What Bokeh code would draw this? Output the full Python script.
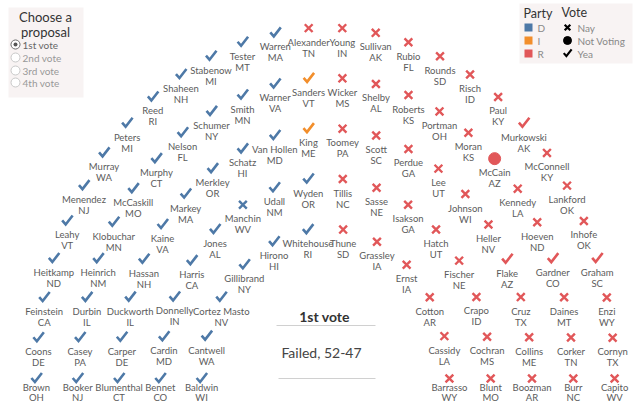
import math
from bokeh.plotting import figure
from bokeh.models import Range1d, ColumnDataSource
from bokeh.core.properties import value
from bokeh.embed import file_html
from bokeh.resources import INLINE

# ---------------- data (seat order: arc by arc, outer first, left to right) ----------------
seats_per_arc = [28, 24, 20, 16, 12]
arc_radius = [7, 6, 5, 4, 3]

names = [
    "Brown", "Coons", "Feinstein", "Heitkamp", "Leahy", "Menendez", "Murray", "Peters", "Reed",
    "Shaheen", "Stabenow", "Tester", "Warren", "Alexander", "Young", "Sullivan", "Rubio", "Rounds",
    "Risch", "Paul", "Murkowski", "McConnell", "Lankford", "Inhofe", "Graham", "Enzi", "Cornyn", "Capito",
    "Booker", "Casey", "Durbin", "Heinrich", "Klobuchar", "McCaskill", "Murphy", "Nelson", "Schumer",
    "Smith", "Warner", "Sanders", "Wicker", "Shelby", "Roberts", "Portman", "Moran", "McCain",
    "Kennedy", "Hoeven", "Gardner", "Daines", "Corker", "Burr",
    "Blumenthal", "Carper", "Duckworth", "Hassan", "Kaine", "Markey", "Merkley", "Schatz", "Van Hollen",
    "King", "Toomey", "Scott", "Perdue", "Lee", "Johnson", "Heller", "Flake", "Cruz", "Collins", "Boozman",
    "Bennet", "Cardin", "Donnelly", "Harris", "Jones", "Manchin", "Udall", "Wyden", "Tillis", "Sasse",
    "Isakson", "Hatch", "Fischer", "Crapo", "Cochran", "Blunt",
    "Baldwin", "Cantwell", "Cortez Masto", "Gillibrand", "Hirono", "Whitehouse", "Thune", "Grassley",
    "Ernst", "Cotton", "Cassidy", "Barrasso",
]
states = [
    "OH", "DE", "CA", "ND", "VT", "NJ", "WA", "MI", "RI", "NH", "MI", "MT", "MA", "TN", "IN", "AK", "FL",
    "SD", "ID", "KY", "AK", "KY", "OK", "OK", "SC", "WY", "TX", "WV",
    "NJ", "PA", "IL", "NM", "MN", "MO", "CT", "FL", "NY", "MN", "VA", "VT", "MS", "AL", "KS", "OH", "KS",
    "AZ", "LA", "ND", "CO", "MT", "TN", "NC",
    "CT", "DE", "IL", "NH", "VA", "MA", "OR", "HI", "MD", "ME", "PA", "SC", "GA", "UT", "WI", "NV", "AZ",
    "TX", "ME", "AR",
    "CO", "MD", "IN", "CA", "AL", "WV", "NM", "OR", "NC", "NE", "GA", "UT", "NE", "ID", "MS", "MO",
    "WI", "WA", "NV", "NY", "HI", "RI", "SD", "IA", "IA", "AR", "LA", "WY",
]
parties = list(
    "DDDDDDDDDDDDDRRRRRRRRRRRRRRR"
    "DDDDDDDDDDDIRRRRRRRRRRRR"
    "DDDDDDDDDIRRRRRRRRRR"
    "DDDDDDDDRRRRRRRR"
    "DDDDDDRRRRRR"
)
# Y = Yea, N = Nay, V = Not Voting
votes = list(
    "YYYYYYYYYYYYYNNNNNNNYNNNYNNN"
    "YYYYYYYYYYYYNNNNNVNNYNNN"
    "YYYYYYYYYYNNNNNNYNNN"
    "YYYYYNYYNNNNNNNN"
    "YYYYYYNNNNNN"
)
result_title = "1st vote"
result_text = "Failed, 52-47"
proposals = ["1st vote", "2nd vote", "3rd vote", "4th vote"]

party_colors = {"D": "#4e79a7", "I": "#f28e2b", "R": "#e15759"}

# ---------------- layout ----------------
W, H = 640, 408
CX, CY = 325.0, 378.0       # pixel position of arc centre
SX, SY = 41.3, 50.14        # pixels per unit

def px(xp, yp):
    return (xp - CX) / SX, (CY - yp) / SY

xs, ys, bottom = [], [], []
for n, r in zip(seats_per_arc, arc_radius):
    for i in range(n):
        t = math.pi * i / (n - 1)
        xs.append(-r * math.cos(t))
        ys.append(r * math.sin(t))
        bottom.append(i == 0 or i == n - 1)

colors = [party_colors[p] for p in parties]

p = figure(width=W, height=H, output_backend="svg", toolbar_location=None,
           x_range=Range1d(-CX / SX, (W - CX) / SX),
           y_range=Range1d(-(H - CY) / SY, CY / SY),
           min_border=0, x_axis_location=None, y_axis_location=None)
p.grid.visible = False
p.outline_line_color = None
p.background_fill_color = "white"
p.border_fill_color = "white"

FONT = value("Lato")
LBL = "#5b5b5b"

# check-mark shape in screen pixels (y down), relative to the mark centre
CHECK = [(-5.0, -0.5), (-1.5, 3.5), (5.5, -5.5)]

def check_paths(cx_list, cy_list, scale=1.0):
    xx, yy = [], []
    for cx, cy in zip(cx_list, cy_list):
        xx.append([cx + scale * dx / SX for dx, dy in CHECK])
        yy.append([cy - scale * dy / SY for dx, dy in CHECK])
    return xx, yy

def subset(code):
    idx = [k for k, v in enumerate(votes) if v == code]
    return [xs[k] for k in idx], [ys[k] for k in idx], [colors[k] for k in idx]

# Nay
nx, ny, nc = subset("N")
p.scatter(nx, ny, marker="x", size=11, line_width=2.4, line_color=nc)
# Not voting
vx_, vy_, vc = subset("V")
p.scatter(vx_, vy_, marker="circle", size=12, fill_color=vc, line_color=vc)
# Yea
yx, yy, yc = subset("Y")
cxs, cys = check_paths(yx, yy)
p.multi_line(cxs, cys, line_color=yc, line_width=2.6, line_join="miter", line_cap="butt")

# labels (bottom row labels are pulled up to stay inside the view)
name_off = [9 if bt else 14 for bt in bottom]
state_off = [19 if bt else 25 for bt in bottom]
lab = ColumnDataSource(dict(x=xs, y=ys, n=names, s=states, o1=name_off, o2=state_off))
p.text("x", "y", text="n", source=lab, y_offset="o1", text_font=FONT, text_font_size="9.5px",
       text_color=LBL, text_align="center", text_baseline="middle")
p.text("x", "y", text="s", source=lab, y_offset="o2", text_font=FONT, text_font_size="9.5px",
       text_color=LBL, text_align="center", text_baseline="middle")

# ---------------- centre result ----------------
tx, ty = px(324, 316)
p.text([tx], [ty], text=[result_title], text_font=FONT, text_font_style="bold",
       text_font_size="14px", text_color="#333333", text_align="center", text_baseline="middle")
fx, fy = px(321, 352)
p.text([fx], [fy], text=[result_text], text_font=FONT, text_font_size="14px",
       text_color="#444444", text_align="center", text_baseline="middle")
a0, b0 = px(276, 325)
a1, b1 = px(375, 325)
a2, b2 = px(278, 378)
a3, b3 = px(375, 378)
p.segment([a0, a2], [b0, b2], [a1, a3], [b1, b3], line_color="#d0d0d0", line_width=1)

# ---------------- proposal selector panel ----------------
l, t = px(8, 7)
r, b = px(83, 97)
p.quad(left=[l], right=[r], top=[t], bottom=[b], fill_color="#f8f3f3", line_color=None)
for txt, yp in [("Choose a", 16), ("proposal", 31)]:
    qx, qy = px(45, yp)
    p.text([qx], [qy], text=[txt], text_font=FONT, text_font_size="13px",
           text_color="#333333", text_align="center", text_baseline="middle")
rb_y = [44, 57, 70, 82]
rbx = [px(15, yy_)[0] for yy_ in rb_y]
rby = [px(15, yy_)[1] for yy_ in rb_y]
p.scatter(rbx, rby, marker="circle", size=9, fill_color="white", line_color="#c8c8c8", line_width=1)
p.scatter(rbx[:1], rby[:1], marker="circle", size=9, fill_color="white", line_color="#777777", line_width=1)
p.scatter(rbx[:1], rby[:1], marker="circle", size=4, fill_color="#555555", line_color=None)
lx = [px(22, yy_)[0] for yy_ in rb_y]
p.text(lx, rby, text=proposals, text_font=FONT, text_font_size="10px",
       text_color=["#666666", "#999999", "#999999", "#999999"],
       text_align="left", text_baseline="middle")

# ---------------- legend ----------------
l, t = px(519, 3)
r, b = px(632, 63)
p.quad(left=[l], right=[r], top=[t], bottom=[b], fill_color="#f8f3f3", line_color=None)
hx, hy = px(523, 13)
p.text([hx], [hy], text=["Party"], text_font=FONT, text_font_size="12.5px",
       text_color="#333333", text_align="left", text_baseline="middle")
vx, vy = px(561, 12)
p.text([vx], [vy], text=["Vote"], text_font=FONT, text_font_size="12.5px",
       text_color="#333333", text_align="left", text_baseline="middle")
leg_y = [27, 40, 53]
party_keys = ["D", "I", "R"]
sqx = [px(528, yy_)[0] for yy_ in leg_y]
sqy = [px(528, yy_)[1] for yy_ in leg_y]
p.scatter(sqx, sqy, marker="square", size=8, fill_color=[party_colors[k] for k in party_keys],
          line_color=None)
tlx = [px(537, yy_)[0] for yy_ in leg_y]
p.text(tlx, sqy, text=party_keys, text_font=FONT, text_font_size="10px",
       text_color="#888888", text_align="left", text_baseline="middle")
vmx = [px(567, yy_)[0] for yy_ in leg_y]
p.scatter(vmx[:1], sqy[:1], marker="x", size=8, line_width=2.2, line_color="black")
p.scatter(vmx[1:2], sqy[1:2], marker="circle", size=8, fill_color="black", line_color="black")
lcx, lcy = check_paths(vmx[2:], sqy[2:], scale=0.75)
p.multi_line(lcx, lcy, line_color="black", line_width=2.2, line_join="miter")
vlx = [px(577, yy_)[0] for yy_ in leg_y]
p.text(vlx, sqy, text=["Nay", "Not Voting", "Yea"], text_font=FONT, text_font_size="10px",
       text_color="#888888", text_align="left", text_baseline="middle")

open("out.html", "w").write(file_html(p, INLINE))
